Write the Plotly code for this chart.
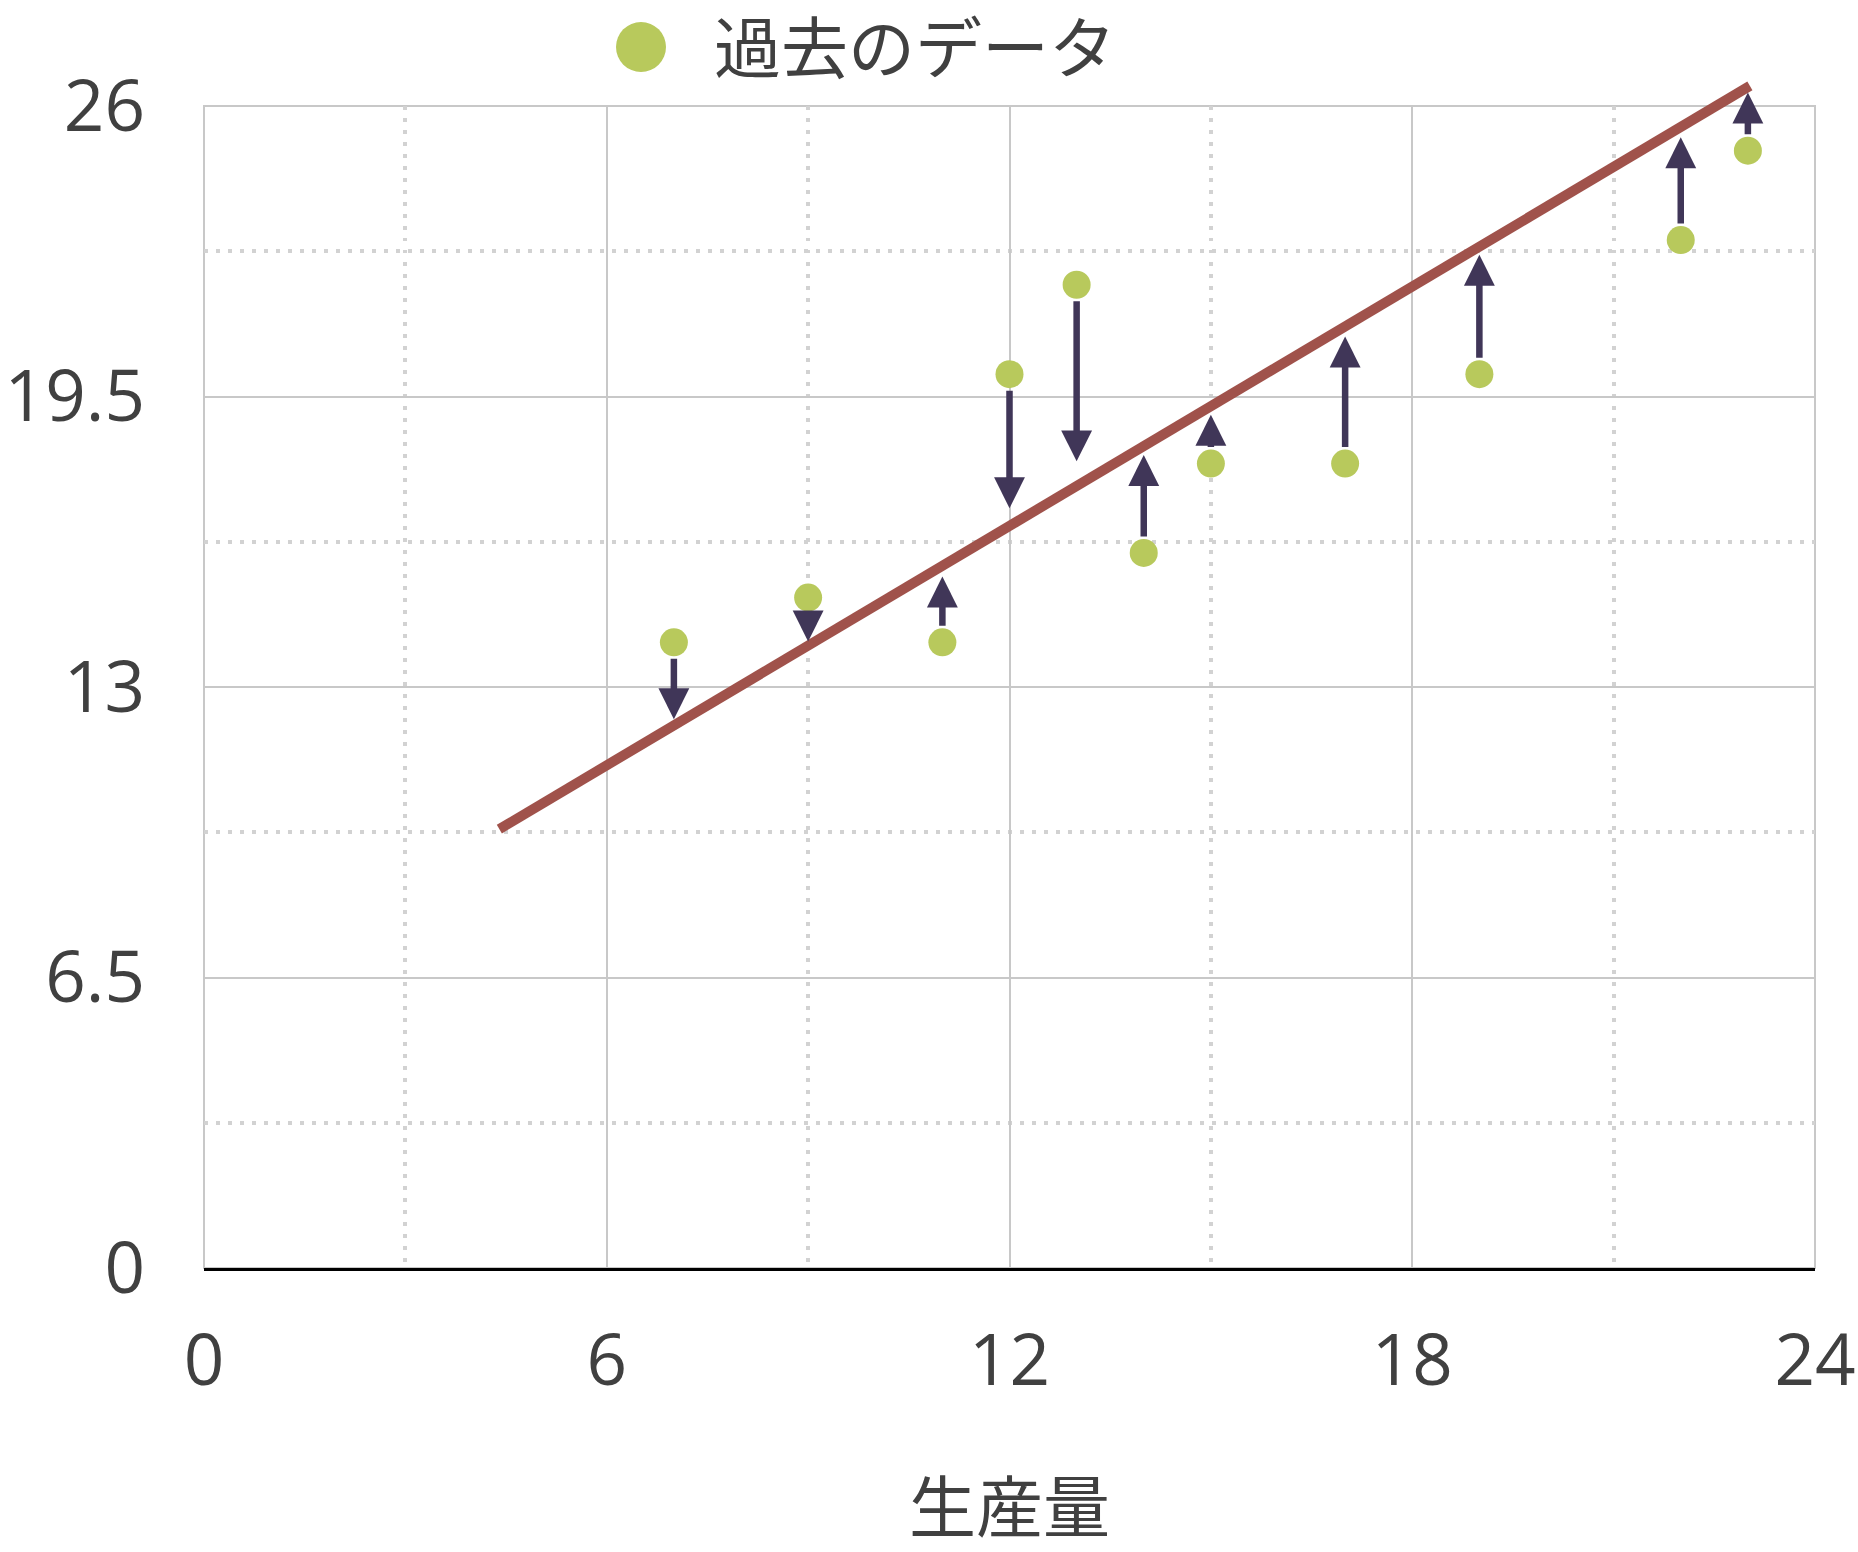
import plotly.graph_objects as go

# ---- data ----
x_hist = [7, 9, 11, 12, 13, 14, 15, 17, 19, 22, 23]
y_hist = [14, 15, 14, 20, 22, 16, 18, 18, 20, 23, 25]
# arrow tips (where each residual arrow ends, near the fitted line)
y_tip = [12.28, 14.02, 15.47, 17.0, 18.05, 18.19, 19.09, 20.84, 22.67, 25.3, 26.3]
# fitted line end points
line_x = [4.4, 23.03]
line_y = [9.82, 26.45]

x_ticks = [0, 6, 12, 18, 24]
x_minor = [3, 9, 15, 21]
y_ticks = [0, 6.5, 13, 19.5, 26]
y_minor = [3.25, 9.75, 16.25, 22.75]
y_ticktext = ["0", "6.5", "13", "19.5", "26"]
legend_label = "過去のデータ"
x_title = "生産量"

# ---- styles ----
GREEN = "#B8C95C"
PURPLE = "#403658"
RED = "#A0524B"
TXT = "#404040"
GRID = "#c8c8c8"
MINOR = "#d2d2d2"
FONT = "Open Sans, Noto Sans CJK JP, sans-serif"

W, H = 1858, 1552
ML, MR, MT, MB = 204, 43, 50, 284
plot_h = 1162
paper_h = H - MT - MB
ydom_top = plot_h / paper_h

fig = go.Figure()

fig.add_trace(go.Scatter(
    x=x_hist, y=y_hist, mode="markers", name=legend_label,
    marker=dict(size=28, color=GREEN, line=dict(width=0)),
    xaxis="x", yaxis="y", showlegend=False, cliponaxis=False,
))

fig.add_trace(go.Scatter(
    x=line_x, y=line_y, mode="lines", name="回帰直線",
    line=dict(color=RED, width=10),
    xaxis="x2", yaxis="y2", showlegend=False,
))

annotations = []
for xv, yv, tv in zip(x_hist, y_hist, y_tip):
    annotations.append(dict(
        x=xv, y=tv, ax=xv, ay=yv, xref="x", yref="y", axref="x", ayref="y",
        text="", showarrow=True, arrowhead=2, arrowsize=0.95, arrowwidth=6.5,
        arrowcolor=PURPLE, startstandoff=15, standoff=0,
    ))

# manual legend
leg_cx, leg_cy = 641, 47
annotations.append(dict(
    x=(712 - ML) / (W - ML - MR), y=(H - MB - leg_cy) / paper_h,
    xref="paper", yref="paper", xanchor="left", yanchor="middle",
    text=legend_label, showarrow=False, font=dict(family=FONT, size=67, color=TXT),
))

shapes = [
    dict(
        type="circle", xref="paper", yref="paper",
        xsizemode="pixel", ysizemode="pixel",
        xanchor=(leg_cx - ML) / (W - ML - MR), yanchor=(H - MB - leg_cy) / paper_h,
        x0=-25, x1=25, y0=-25, y1=25,
        fillcolor=GREEN, line=dict(width=0),
    ),
    # plot frame (top / left / right)
    dict(type="rect", xref="x domain", yref="y domain", x0=0, x1=1, y0=0, y1=1,
         line=dict(color=GRID, width=2), fillcolor="rgba(0,0,0,0)", layer="below"),
]

fig.update_layout(
    width=W, height=H, autosize=False,
    margin=dict(l=ML, r=MR, t=MT, b=MB, pad=0, autoexpand=False),
    paper_bgcolor="white", plot_bgcolor="rgba(0,0,0,0)",
    font=dict(family=FONT, color=TXT),
    showlegend=False,
    annotations=annotations,
    shapes=shapes,
    xaxis=dict(
        domain=[0, 1], range=[0, 24], tickvals=x_ticks, automargin=False,
        showgrid=True, gridcolor=GRID, gridwidth=2, zeroline=False,
        showline=True, linecolor="black", linewidth=2.5,
        ticks="", ticklabelstandoff=29,
        tickfont=dict(family=FONT, size=71, color=TXT),
        minor=dict(tickmode="array", tickvals=x_minor, showgrid=True, gridcolor=MINOR,
                   gridwidth=3.5, griddash="3.5px,8.5px"),
        title=dict(text=x_title, font=dict(family=FONT, size=67, color=TXT), standoff=88),
        anchor="y",
    ),
    yaxis=dict(
        domain=[0, ydom_top], range=[0, 26], tickvals=y_ticks, ticktext=y_ticktext,
        automargin=False,
        showgrid=True, gridcolor=GRID, gridwidth=2, zeroline=False,
        showline=False, ticks="", ticklabelstandoff=58,
        tickfont=dict(family=FONT, size=71, color=TXT),
        minor=dict(tickmode="array", tickvals=y_minor, showgrid=True, gridcolor=MINOR,
                   gridwidth=3.5, griddash="3.5px,8.5px"),
        anchor="x",
    ),
    xaxis2=dict(domain=[0, 1], range=[0, 24], anchor="y2", visible=False),
    yaxis2=dict(domain=[0, 1], range=[0, 26 / ydom_top], anchor="x2", visible=False),
)

fig.write_html("out.html")
